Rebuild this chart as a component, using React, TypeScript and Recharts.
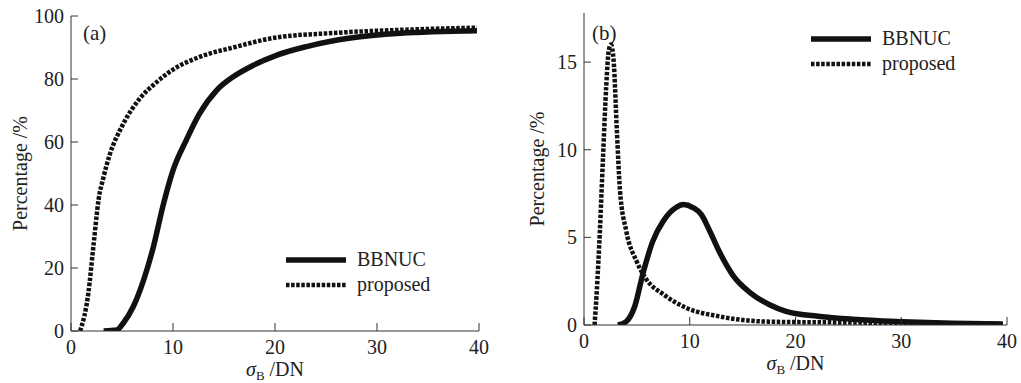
import { LineChart, Line, XAxis, YAxis, Legend, Label } from "recharts";

// (a) cumulative share of pixels vs sigma_B
const cdfBbnucX = [3.2, 4.5, 5.1, 6.1, 7.1, 8.1, 9.0, 10, 11.3, 12.6, 14.3, 15.9, 17.9, 20.2, 23.1, 27.4, 32.3, 39.8];
const cdfBbnucY = [0, 0.3, 2.4, 7.7, 16, 27, 39.5, 51, 60.6, 69, 76.5, 80.7, 84.4, 87.6, 90.3, 93, 94.5, 95.3];
const cdfProposedX = [0.9, 1.7, 2.2, 2.7, 3.2, 3.8, 5, 6.8, 8.4, 10, 12.6, 15.9, 19.8, 25.7, 32.3, 39.8];
const cdfProposedY = [0, 12, 27, 41.6, 49, 56, 65, 74, 79, 83, 87, 90, 93, 94.6, 95.6, 96.3];

// (b) distribution of sigma_B
const pdfBbnucX = [3.2, 4.0, 4.8, 5.6, 6.5, 7.5, 8.7, 9.4, 10.3, 11.1, 11.9, 12.8, 14.1, 15.7, 17.5, 19.1, 22.3, 25.4, 30.1, 34.8, 39.6];
const pdfBbnucY = [0, 0.2, 1.07, 3.0, 4.77, 5.93, 6.7, 6.87, 6.7, 6.3, 5.35, 4.18, 2.82, 1.85, 1.17, 0.78, 0.49, 0.33, 0.19, 0.1, 0.06];
const pdfProposedX = [1.0, 1.2, 1.5, 1.8, 2.1, 2.35, 2.55, 2.8, 3.1, 3.4, 4.0, 5.0, 5.9, 7.5, 9.7, 12.8, 17.5, 25.4, 39.6];
const pdfProposedY = [0, 1.85, 5.35, 9.6, 13.6, 15.7, 16.0, 15.1, 11.2, 7.7, 5.35, 3.6, 2.6, 1.75, 0.97, 0.49, 0.19, 0.14, 0.06];

const xTicks = [0, 10, 20, 30, 40];
const cdfTicks = [0, 20, 40, 60, 80, 100];
const pdfTicks = [0, 5, 10, 15];

const FONT = "Tinos, 'Liberation Serif', 'Times New Roman', 'Noto Serif', 'DejaVu Serif', Times, serif";
const INK = "#111";
const AXIS = "#333";

const toPoints = (xs: number[], ys: number[]) => xs.map((x, i) => ({ x, y: ys[i] }));

const LegendBox = () => (
  <div style={{ fontFamily: FONT, fontSize: 20, color: "#222" }}>
    {[
      { name: "BBNUC", dash: undefined, w: 5.5 },
      { name: "proposed", dash: "3.5 1.6", w: 4.5 },
    ].map(it => (
      <div key={it.name} style={{ display: "flex", alignItems: "center", height: 25 }}>
        <svg width={60} height={8}>
          <line x1={0} x2={60} y1={4} y2={4} stroke={INK} strokeWidth={it.w} strokeDasharray={it.dash} />
        </svg>
        <span style={{ marginLeft: 11 }}>{it.name}</span>
      </div>
    ))}
  </div>
);

interface PanelProps {
  tag: string;
  left: number;
  width: number;
  margin: { top: number; right: number; bottom: number; left: number };
  yMax: number;
  yTicks: number[];
  bbnuc: { x: number; y: number }[];
  proposed: { x: number; y: number }[];
  legendPos: { left: number; top: number };
  yTitleX: number;
  tagLeft: number;
}

const Panel = ({ tag, left, width, margin, yMax, yTicks, bbnuc, proposed, legendPos, yTitleX, tagLeft }: PanelProps) => {
  const tick = { fill: "#222", fontSize: 20, fontFamily: FONT };
  return <div style={{ position: "absolute", left, top: 0, width, height: 383 }}>
      <LineChart width={width} height={383} margin={margin}>
        <XAxis xAxisId="b" type="number" dataKey="x" domain={[0, 40]} ticks={xTicks} tick={tick}
          tickSize={-8} tickMargin={17} height={30} axisLine={{ stroke: AXIS }} tickLine={{ stroke: AXIS }}
          allowDataOverflow>
          <Label content={({ viewBox }: any) => <text x={viewBox.x + viewBox.width / 2} y={viewBox.y + 45}
              textAnchor="middle" fontFamily={FONT} fontSize={20} fill="#222">
              <tspan fontStyle="italic">σ</tspan>
              <tspan fontSize={13} dy={4}>B</tspan>
              <tspan dy={-4}> /DN</tspan>
            </text>} />
        </XAxis>
        <XAxis xAxisId="t" orientation="top" type="number" domain={[0, 40]} height={0} tick={false}
          tickLine={false} axisLine={{ stroke: AXIS }} />
        <YAxis yAxisId="l" type="number" domain={[0, yMax]} ticks={yTicks} tick={tick} width={40}
          tickSize={-7} tickMargin={14} axisLine={{ stroke: AXIS }} tickLine={{ stroke: AXIS }}
          allowDataOverflow>
          <Label content={({ viewBox }: any) => {
          const cx = yTitleX;
          const cy = viewBox.y + viewBox.height / 2;
          return <text x={cx} y={cy} transform={`rotate(-90, ${cx}, ${cy})`} textAnchor="middle"
                dominantBaseline="central" fontFamily={FONT} fontSize={20} fill="#222">
                Percentage /%
              </text>;
        }} />
        </YAxis>
        <YAxis yAxisId="r" orientation="right" type="number" domain={[0, yMax]} width={0} tick={false}
          tickLine={false} axisLine={{ stroke: AXIS }} />
        <Legend layout="vertical" align="center" verticalAlign="middle" content={() => <LegendBox />}
          wrapperStyle={{ left: legendPos.left, top: legendPos.top, width: 170 }} />
        <Line xAxisId="b" yAxisId="l" data={bbnuc} dataKey="y" type="monotone" stroke={INK}
          strokeWidth={5.5} dot={false} isAnimationActive={false} />
        <Line xAxisId="b" yAxisId="l" data={proposed} dataKey="y" type="monotone" stroke={INK}
          strokeWidth={4.5} strokeDasharray="3.5 1.6" dot={false} isAnimationActive={false} />
      </LineChart>
      <div style={{ position: "absolute", left: tagLeft, top: 21, fontFamily: FONT, fontSize: 21,
      color: "#222", lineHeight: "24px" }}>{tag}</div>
    </div>;
};

const App = () => {
  return <div style={{ position: "fixed", left: 0, top: 0, width: 1021, height: 383, background: "#fff" }}>
      <Panel tag="(a)" left={0} width={500} margin={{ top: 16, right: 21, bottom: 22, left: 31 }}
        yMax={100} yTicks={cdfTicks} bbnuc={toPoints(cdfBbnucX, cdfBbnucY)}
        proposed={toPoints(cdfProposedX, cdfProposedY)} legendPos={{ left: 286, top: 247 }} yTitleX={20}
        tagLeft={83} />
      <Panel tag="(b)" left={510} width={511} margin={{ top: 13, right: 14, bottom: 28, left: 34 }}
        yMax={17.8} yTicks={pdfTicks} bbnuc={toPoints(pdfBbnucX, pdfBbnucY)}
        proposed={toPoints(pdfProposedX, pdfProposedY)} legendPos={{ left: 301, top: 26 }} yTitleX={27}
        tagLeft={82} />
    </div>;
};

export default App;
